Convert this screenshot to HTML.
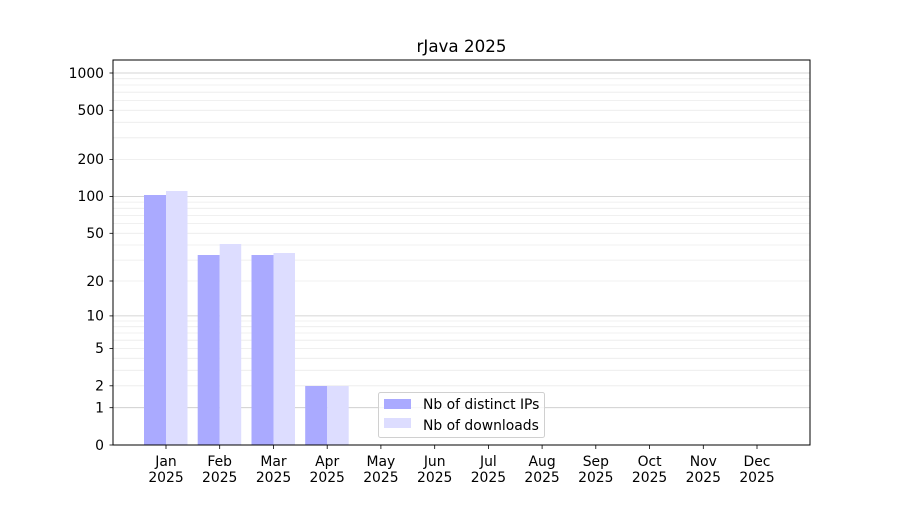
<!DOCTYPE html>
<html><head><meta charset="utf-8"><style>
body{margin:0;background:#fff;}
text{font-family:"DejaVu Sans","Liberation Sans",sans-serif;font-size:13.9px;fill:#000;}
</style></head><body>
<svg width="900" height="500" xmlns="http://www.w3.org/2000/svg">
<rect width="900" height="500" fill="#fff"/>
<g stroke="#ebebeb" stroke-width="0.8">
<line x1="113" x2="810" y1="385.8" y2="385.8"/><line x1="113" x2="810" y1="370.3" y2="370.3"/><line x1="113" x2="810" y1="358.3" y2="358.3"/><line x1="113" x2="810" y1="348.5" y2="348.5"/><line x1="113" x2="810" y1="340.2" y2="340.2"/><line x1="113" x2="810" y1="333" y2="333"/><line x1="113" x2="810" y1="326.7" y2="326.7"/><line x1="113" x2="810" y1="321" y2="321"/>
<line x1="113" x2="810" y1="281" y2="281"/><line x1="113" x2="810" y1="260.1" y2="260.1"/><line x1="113" x2="810" y1="245" y2="245"/><line x1="113" x2="810" y1="233.3" y2="233.3"/><line x1="113" x2="810" y1="223.6" y2="223.6"/><line x1="113" x2="810" y1="215.4" y2="215.4"/><line x1="113" x2="810" y1="208.3" y2="208.3"/><line x1="113" x2="810" y1="202.1" y2="202.1"/>
<line x1="113" x2="810" y1="159.6" y2="159.6"/><line x1="113" x2="810" y1="137.8" y2="137.8"/><line x1="113" x2="810" y1="122.3" y2="122.3"/><line x1="113" x2="810" y1="110.3" y2="110.3"/><line x1="113" x2="810" y1="100.5" y2="100.5"/><line x1="113" x2="810" y1="92.2" y2="92.2"/><line x1="113" x2="810" y1="85" y2="85"/><line x1="113" x2="810" y1="78.7" y2="78.7"/>
</g>
<g stroke="#c8c8c8" stroke-width="0.8">
<line x1="113" x2="810" y1="407.7" y2="407.7"/><line x1="113" x2="810" y1="315.9" y2="315.9"/><line x1="113" x2="810" y1="196.5" y2="196.5"/><line x1="113" x2="810" y1="73" y2="73"/>
</g>
<g fill="#aaaaff">
<rect x="144" y="195" width="22" height="250"/>
<rect x="197.7" y="255" width="22" height="190"/>
<rect x="251.5" y="255" width="22" height="190"/>
<rect x="305.2" y="386" width="22" height="59"/>
</g>
<g fill="#ddddff">
<rect x="166" y="191" width="21.5" height="254"/>
<rect x="219.7" y="244" width="21.5" height="201"/>
<rect x="273.5" y="253" width="21.5" height="192"/>
<rect x="327.2" y="386" width="21.5" height="59"/>
</g>
<rect x="113" y="60" width="697" height="385" fill="none" stroke="#000" stroke-width="1"/>
<g stroke="#000" stroke-width="0.8">
<line x1="109.5" x2="113" y1="445" y2="445"/><line x1="109.5" x2="113" y1="407.7" y2="407.7"/><line x1="109.5" x2="113" y1="385.8" y2="385.8"/><line x1="109.5" x2="113" y1="348.5" y2="348.5"/><line x1="109.5" x2="113" y1="315.9" y2="315.9"/><line x1="109.5" x2="113" y1="281" y2="281"/><line x1="109.5" x2="113" y1="233.3" y2="233.3"/><line x1="109.5" x2="113" y1="196.5" y2="196.5"/><line x1="109.5" x2="113" y1="159.6" y2="159.6"/><line x1="109.5" x2="113" y1="110.3" y2="110.3"/><line x1="109.5" x2="113" y1="73" y2="73"/>
<line x1="166" x2="166" y1="445" y2="449"/><line x1="219.7" x2="219.7" y1="445" y2="449"/><line x1="273.5" x2="273.5" y1="445" y2="449"/><line x1="327.2" x2="327.2" y1="445" y2="449"/><line x1="380.9" x2="380.9" y1="445" y2="449"/><line x1="434.7" x2="434.7" y1="445" y2="449"/><line x1="488.4" x2="488.4" y1="445" y2="449"/><line x1="542.1" x2="542.1" y1="445" y2="449"/><line x1="595.8" x2="595.8" y1="445" y2="449"/><line x1="649.6" x2="649.6" y1="445" y2="449"/><line x1="703.3" x2="703.3" y1="445" y2="449"/><line x1="757" x2="757" y1="445" y2="449"/>
</g>
<g text-anchor="end">
<text x="104" y="450">0</text><text x="104" y="412.5">1</text><text x="104" y="390.5">2</text><text x="104" y="353">5</text><text x="104" y="320.5">10</text><text x="104" y="286">20</text><text x="104" y="238">50</text><text x="104" y="201">100</text><text x="104" y="164">200</text><text x="104" y="115">500</text><text x="104" y="78">1000</text>
</g>
<g text-anchor="middle">
<text x="166" y="466">Jan</text><text x="166" y="482">2025</text>
<text x="219.7" y="466">Feb</text><text x="219.7" y="482">2025</text>
<text x="273.5" y="466">Mar</text><text x="273.5" y="482">2025</text>
<text x="327.2" y="466">Apr</text><text x="327.2" y="482">2025</text>
<text x="380.9" y="466">May</text><text x="380.9" y="482">2025</text>
<text x="434.7" y="466">Jun</text><text x="434.7" y="482">2025</text>
<text x="488.4" y="466">Jul</text><text x="488.4" y="482">2025</text>
<text x="542.1" y="466">Aug</text><text x="542.1" y="482">2025</text>
<text x="595.8" y="466">Sep</text><text x="595.8" y="482">2025</text>
<text x="649.6" y="466">Oct</text><text x="649.6" y="482">2025</text>
<text x="703.3" y="466">Nov</text><text x="703.3" y="482">2025</text>
<text x="757" y="466">Dec</text><text x="757" y="482">2025</text>
<text x="461.5" y="52" style="font-size:16.7px">rJava 2025</text>
</g>
<rect x="378.5" y="392.5" width="166" height="45" rx="2" fill="#fff" fill-opacity="0.8" stroke="#d0d0d0"/>
<rect x="384" y="399" width="27" height="10" fill="#aaaaff"/>
<rect x="384" y="418" width="27" height="10" fill="#ddddff"/>
<text x="423" y="409">Nb of distinct IPs</text>
<text x="423" y="430">Nb of downloads</text>
</svg>
</body></html>
